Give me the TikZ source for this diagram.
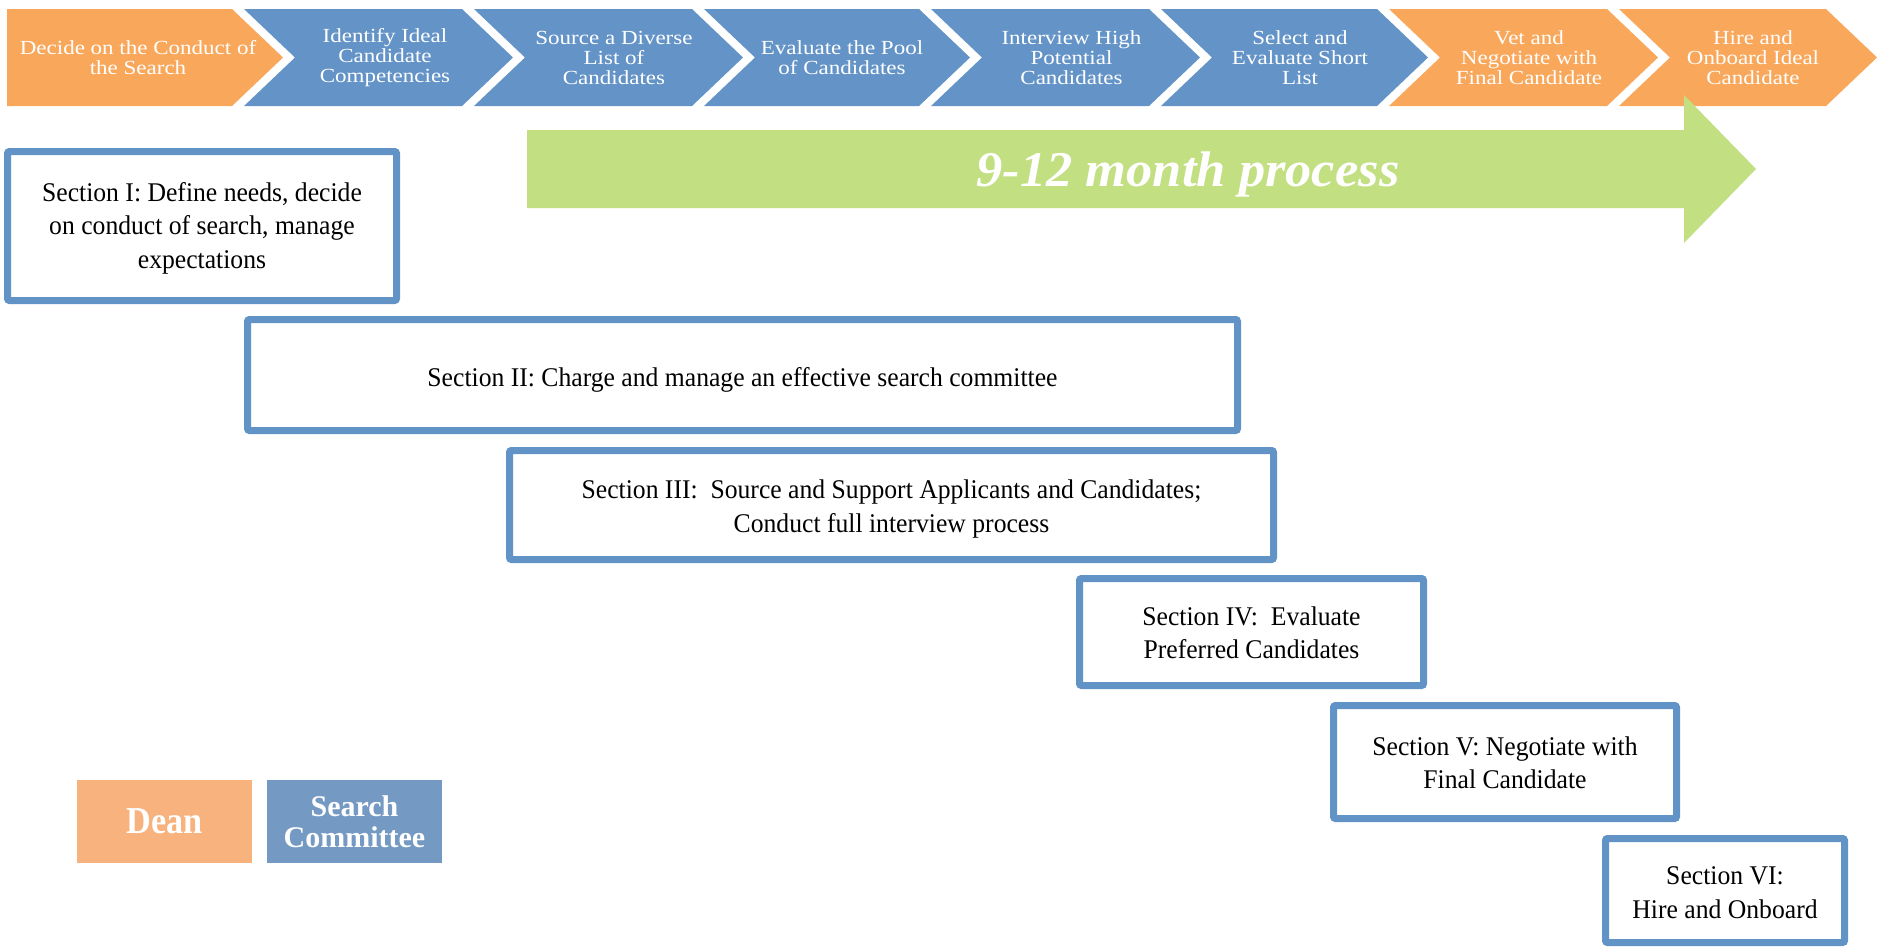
\documentclass[tikz,border=0pt]{standalone}
\usepackage{fontspec}
\setmainfont{Liberation Serif}
\newfontfamily\chevfont[FakeStretch=1.15]{Liberation Serif}
\newfontfamily\boxfont[FakeStretch=0.95]{Liberation Serif}
\newfontfamily\bigfont[FakeStretch=1.05]{Liberation Serif}
\newfontfamily\deanfont[FakeStretch=0.9]{Liberation Serif}
\definecolor{chorange}{HTML}{F9A75A}
\definecolor{chblue}{HTML}{6393C7}
\definecolor{chgreen}{HTML}{C2DF81}
\definecolor{boxblue}{HTML}{6193C7}
\definecolor{legorange}{HTML}{F7B27D}
\definecolor{legblue}{HTML}{7499C3}
\newcommand{\mychev}[3]{%
  \fill[#3] (#1,9) -- ({#2-51},9) -- (#2,57.5) -- ({#2-51},106) -- (#1,106) -- ({#1+51},57.5) -- cycle;}
\tikzset{
  chevtext/.style={text=white, align=center, inner sep=0pt,
    font=\chevfont\fontsize{20}{20}\selectfont},
  secframe/.style={draw=boxblue, line width=7pt, rounded corners=2pt, fill=white,
    inner sep=0pt},
  sectext/.style={align=center, inner sep=0pt, text=black,
    font=\boxfont\fontsize{27}{33.5}\selectfont},
  legbox/.style={inner sep=0pt, align=center, text=white,
    minimum width=175pt, minimum height=83pt}
}
\begin{document}
\begin{tikzpicture}[x=1pt,y=-1pt]
\fill[white] (0,0) rectangle (1877,946);
\useasboundingbox (0,0) rectangle (1877,946);

% chevrons
\fill[chorange] (7,9) -- (232,9) -- (283,57.5) -- (232,106) -- (7,106) -- cycle;
\mychev{244}{513}{chblue}
\mychev{474}{743}{chblue}
\mychev{704}{970}{chblue}
\mychev{931}{1200}{chblue}
\mychev{1161}{1428}{chblue}
\mychev{1389}{1658}{chorange}
\mychev{1619}{1877}{chorange}

\node[chevtext] (c1) at (138,57.5) {Decide on the Conduct of\\the Search};
\node[chevtext] (c2) at (385,57.5) {Identify Ideal\\Candidate\\Competencies};
\node[chevtext] (c3) at (614,57.5) {Source a Diverse\\List of\\Candidates};
\node[chevtext] (c4) at (842,57.5) {Evaluate the Pool\\of Candidates};
\node[chevtext] (c5) at (1071.5,57.5) {Interview High\\Potential\\Candidates};
\node[chevtext] (c6) at (1300,57.5) {Select and\\Evaluate Short\\List};
\node[chevtext] (c7) at (1529,57.5) {Vet and\\Negotiate with\\Final Candidate};
\node[chevtext] (c8) at (1753,57.5) {Hire and\\Onboard Ideal\\Candidate};

% green arrow
\fill[chgreen] (527,130) -- (1684,130) -- (1684,95) -- (1756,169) -- (1684,243) -- (1684,208) -- (527,208) -- cycle;
\node[anchor=base, text=white, inner sep=0pt,
  font=\bigfont\bfseries\itshape\fontsize{50}{50}\selectfont] (gt) at (1188,186) {9-12 month process};

% section boxes
\node[secframe, minimum width=389pt, minimum height=149pt] (s1) at (202,226) {};
\node[secframe, minimum width=990pt, minimum height=111pt] (s2) at (742.5,375) {};
\node[secframe, minimum width=764pt, minimum height=109pt] (s3) at (891.5,505) {};
\node[secframe, minimum width=344pt, minimum height=107pt] (s4) at (1251.5,632) {};
\node[secframe, minimum width=343pt, minimum height=113pt] (s5) at (1505,762) {};
\node[secframe, minimum width=239pt, minimum height=104pt] (s6) at (1725,890.5) {};

\node[sectext] (t1) at ([yshift=-2pt]s1.center)
  {Section I: Define needs, decide\\on conduct of search, manage\\expectations};
\node[sectext] (t2) at ([yshift=-5pt]s2.center)
  {Section II: Charge and manage an effective search committee};
\node[sectext] (t3) at ([yshift=-4pt]s3.center)
  {Section III:\ \ Source and Support Applicants and Candidates;\\Conduct full interview process};
\node[sectext] (t4) at ([yshift=-1pt]s4.center)
  {Section IV:\ \ Evaluate\\Preferred Candidates};
\node[sectext] (t5) at ([yshift=-1pt]s5.center)
  {Section V: Negotiate with\\Final Candidate};
\node[sectext] (t6) at ([yshift=-2pt]s6.center)
  {Section VI:\\Hire and Onboard};

% legend
\node[legbox, fill=legorange, font=\deanfont\bfseries\fontsize{38}{38}\selectfont] (dean) at (164.5,821.5) {Dean};
\node[legbox, fill=legblue, font=\bfseries\fontsize{30}{31}\selectfont] (sc) at (354.5,821.5) {Search\\Committee};
\end{tikzpicture}
\end{document}
